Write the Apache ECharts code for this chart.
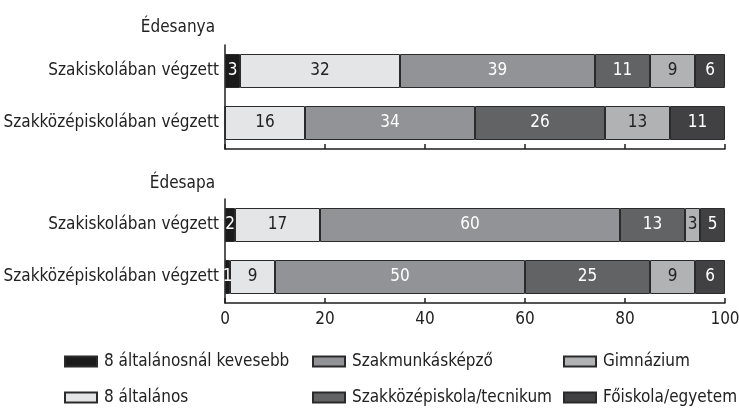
<!DOCTYPE html>
<html><head><meta charset="utf-8">
<script src="https://cdn.jsdelivr.net/npm/echarts@6/dist/echarts.min.js"></script>
<style>html,body{margin:0;padding:0;background:#fff}#c{width:739px;height:408px}</style>
</head><body><div id="c"></div>
<script>
const categories = ['Szakiskolában végzett', 'Szakközépiskolában végzett'];
const seriesNames = ['8 általánosnál kevesebb', '8 általános', 'Szakmunkásképző', 'Szakközépiskola/tecnikum', 'Gimnázium', 'Főiskola/egyetem'];
const panelTitles = ['Édesanya', 'Édesapa'];
const xTicks = [0, 20, 40, 60, 80, 100];
// Édesanya
const motherLess8 = [3, 0];
const mother8 = [32, 16];
const motherSzakmunkas = [39, 34];
const motherSzakkozep = [11, 26];
const motherGimnazium = [9, 13];
const motherFoiskola = [6, 11];
// Édesapa
const fatherLess8 = [2, 1];
const father8 = [17, 9];
const fatherSzakmunkas = [60, 50];
const fatherSzakkozep = [13, 25];
const fatherGimnazium = [3, 9];
const fatherFoiskola = [5, 6];

const FONT = '"DejaVu Sans Condensed", "Liberation Sans Narrow", sans-serif';
const FS = 17;
const colors = ['#1b1b1b', '#e4e5e6', '#929396', '#626365', '#b1b2b4', '#414143'];
const labelColors = ['#fff', '#222', '#fff', '#fff', '#222', '#fff'];
const panels = [
  [motherLess8, mother8, motherSzakmunkas, motherSzakkozep, motherGimnazium, motherFoiskola],
  [fatherLess8, father8, fatherSzakmunkas, fatherSzakkozep, fatherGimnazium, fatherFoiskola]
];

const chart = echarts.init(document.getElementById('c'), null, {renderer: 'canvas'});
const series = [];
panels.forEach((panel, p) => {
  panel.forEach((vals, i) => {
    series.push({
      name: seriesNames[i], type: 'bar', stack: 'p' + p,
      xAxisIndex: p, yAxisIndex: p, barWidth: 34,
      data: vals,
      itemStyle: {color: colors[i], borderColor: '#2a2a2a', borderWidth: 1},
      label: {show: true, position: 'inside', color: labelColors[i], fontFamily: FONT, fontSize: FS,
        formatter: d => d.value > 0 ? String(d.value) : ''},
      emphasis: {disabled: true}, animation: false
    });
  });
});

const axisLine = {show: true, lineStyle: {color: '#1e1e1e', width: 1.5}};
const xAxis = [0, 1].map(p => ({
  type: 'value', gridIndex: p, min: 0, max: 100, interval: 20,
  axisLine: axisLine,
  axisTick: {show: true, inside: true, length: 5, lineStyle: {color: '#1e1e1e', width: 1.5}},
  splitLine: {show: false},
  axisLabel: {show: p === 1, color: '#222', fontFamily: FONT, fontSize: FS, margin: 8,
    formatter: v => xTicks.includes(v) ? String(v) : ''}
}));
const yAxis = [0, 1].map(p => ({
  type: 'category', gridIndex: p, data: categories, inverse: true,
  axisLine: axisLine, axisTick: {show: false},
  axisLabel: {color: '#222', fontFamily: FONT, fontSize: FS, margin: 6}
}));

const legendPos = [
  {left: 64, top: 353}, {left: 64, top: 389},
  {left: 312, top: 353}, {left: 312, top: 389},
  {left: 563, top: 353}, {left: 563, top: 389}
];
const legend = seriesNames.map((n, k) => ({
  data: [n], left: legendPos[k].left, top: legendPos[k].top,
  itemWidth: 32, itemHeight: 10, itemGap: 8, padding: 0, selectedMode: false,
  icon: 'rect',
  textStyle: {color: '#222', fontFamily: FONT, fontSize: FS, padding: [0, 0, 0, 2]}
}));

chart.setOption({
  animation: false,
  title: panelTitles.map((t, p) => ({
    text: t, right: 524, top: p === 0 ? 19 : 175, padding: 0,
    textStyle: {color: '#222', fontFamily: FONT, fontSize: FS, fontWeight: 'normal'}
  })),
  grid: [
    {left: 225, right: 14, top: 45, height: 104, containLabel: false, outerBoundsMode: 'none'},
    {left: 225, right: 14, top: 199, height: 104, containLabel: false, outerBoundsMode: 'none'}
  ],
  xAxis: xAxis, yAxis: yAxis, legend: legend, series: series
});
</script></body></html>
